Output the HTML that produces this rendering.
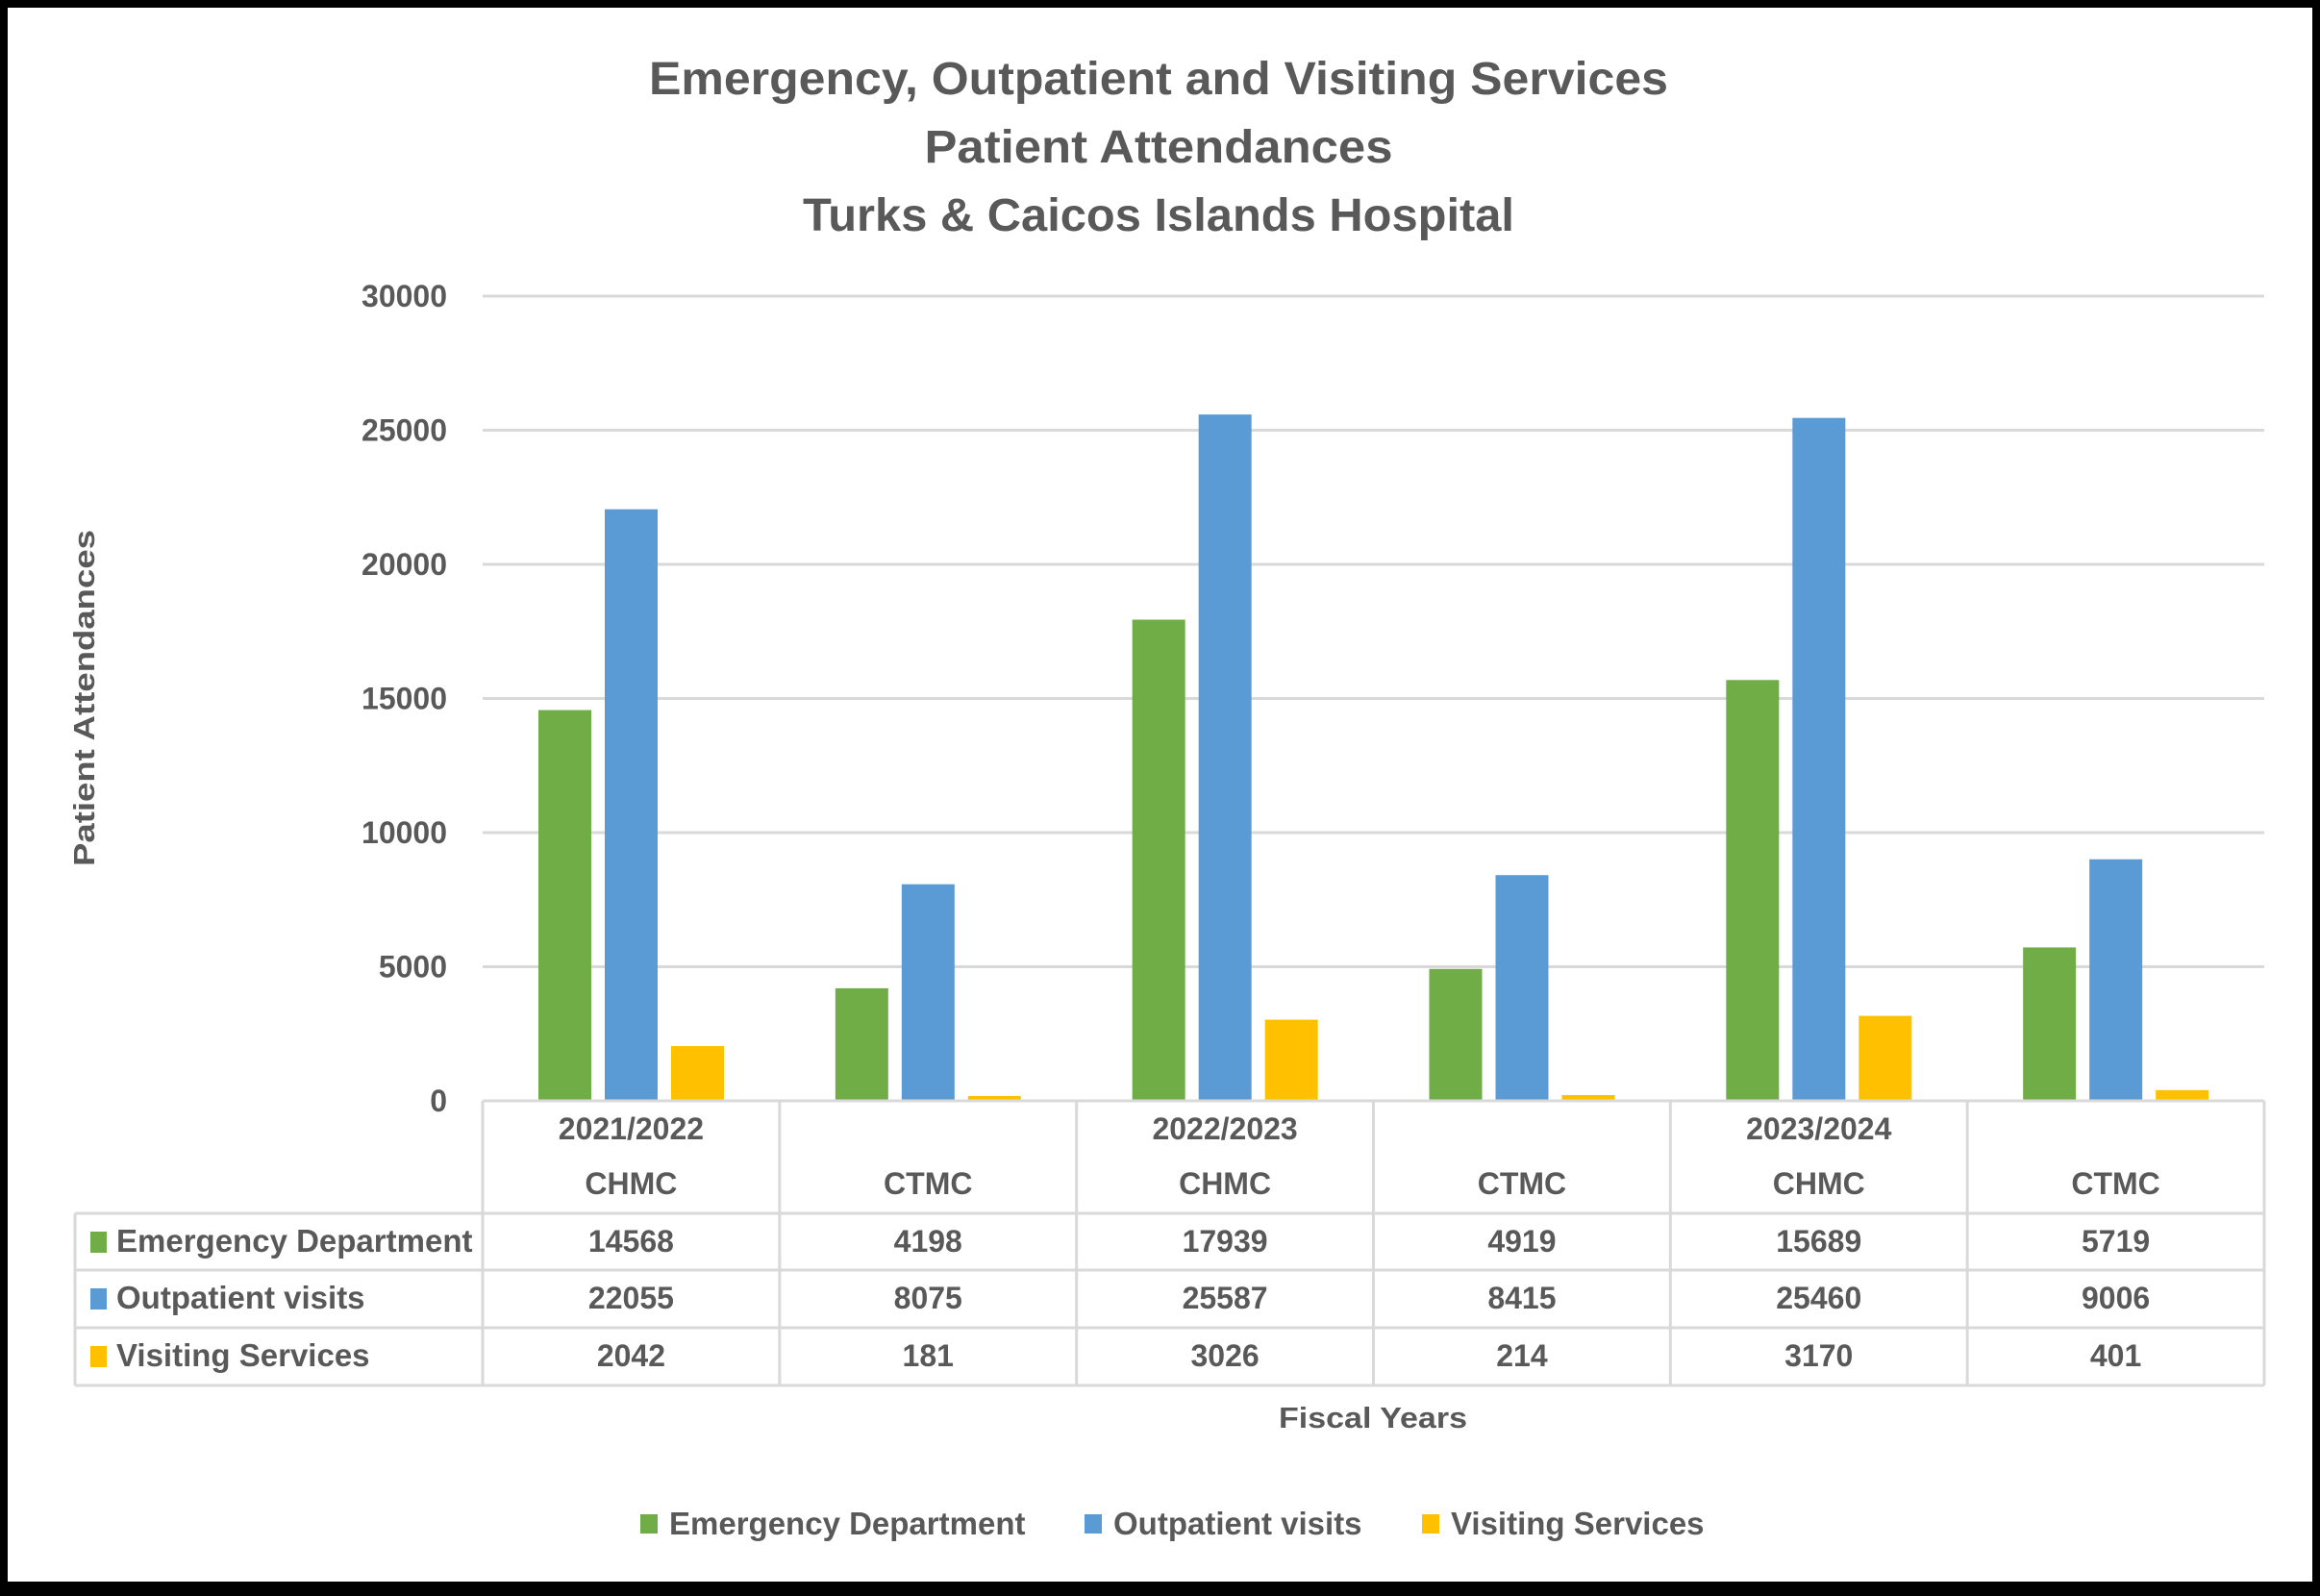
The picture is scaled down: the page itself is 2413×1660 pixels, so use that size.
<!DOCTYPE html>
<html><head><meta charset="utf-8"><style>
html,body{margin:0;padding:0;background:#000;}
svg{display:block;}
text{font-family:"Liberation Sans",sans-serif;font-weight:bold;fill:#595959;}
</style></head><body>
<svg id="chart" width="2413" height="1660" viewBox="0 0 2413 1660" xmlns="http://www.w3.org/2000/svg">
<rect x="0" y="0" width="2413" height="1660" fill="#000"/>
<rect x="8" y="8" width="2397" height="1637" fill="#fff"/>
<text x="1205" y="98" text-anchor="middle" font-size="48" textLength="1060" lengthAdjust="spacingAndGlyphs">Emergency, Outpatient and Visiting Services</text>
<text x="1205" y="169" text-anchor="middle" font-size="48" textLength="487" lengthAdjust="spacingAndGlyphs">Patient Attendances</text>
<text x="1205" y="240" text-anchor="middle" font-size="48" textLength="740" lengthAdjust="spacingAndGlyphs">Turks &amp; Caicos Islands Hospital</text>
<text transform="translate(98,726) rotate(-90)" text-anchor="middle" font-size="31" textLength="350" lengthAdjust="spacingAndGlyphs">Patient Attendances</text>
<text x="1428" y="1485" text-anchor="middle" font-size="31" textLength="196" lengthAdjust="spacingAndGlyphs">Fiscal Years</text>
<g id="grid"></g><g id="bars"></g><g id="table"></g><g id="legend"></g>
</svg>
<script>
const categories = ["CHMC","CTMC","CHMC","CTMC","CHMC","CTMC"];
const years = ["2021/2022","","2022/2023","","2023/2024",""];
const seriesNames = ["Emergency Department","Outpatient visits","Visiting Services"];
const emergency = [14568,4198,17939,4919,15689,5719];
const outpatient = [22055,8075,25587,8415,25460,9006];
const visiting = [2042,181,3026,214,3170,401];
const yTicks = [0,5000,10000,15000,20000,25000,30000];
const colors = ["#70AD47","#5B9BD5","#FFC000"];
const series = [emergency,outpatient,visiting];

const NS="http://www.w3.org/2000/svg";
const L=502,R=2355,Y0=1145,Y1=308,YMAX=30000;
const catW=(R-L)/categories.length;
function yScale(v){return Y0-(v/YMAX)*(Y0-Y1);}
function xCat(i){return L+i*catW;}
function mk(tag,attrs,parent,txt){const e=document.createElementNS(NS,tag);for(const k in attrs)e.setAttribute(k,attrs[k]);if(txt!==undefined)e.textContent=txt;parent.appendChild(e);return e;}
const grid=document.getElementById('grid'),bars=document.getElementById('bars'),table=document.getElementById('table'),legend=document.getElementById('legend');

yTicks.forEach(t=>{
  const y=yScale(t);
  if(t>0){const ln=mk('line',{x1:L,x2:R,y1:y,y2:y,stroke:'#d9d9d9','stroke-width':3},grid);
  
  }
  const tx=mk('text',{x:465,y:y+11,'text-anchor':'end','font-size':32},grid,String(t));
  
  
});

const barW=55,gap=14,off=58;
series.forEach((s,si)=>{
  s.forEach((v,i)=>{
    const x=xCat(i)+off+si*(barW+gap);
    const y=yScale(v);
    const r=mk('rect',{x:x,y:y,width:barW,height:Y0-y,fill:colors[si]},bars);
    
    
  });
});

const lc='#d9d9d9';
const rowsY=[1145,1262,1321,1381,1441];
rowsY.forEach((y,k)=>{const ln=mk('line',{x1:k===0?L:78,x2:R,y1:y,y2:y,stroke:lc,'stroke-width':3},table);
  
  });
const vl=mk('line',{x1:78,x2:78,y1:1262,y2:1441,stroke:lc,'stroke-width':3},table);


for(let i=0;i<=categories.length;i++){
  const x=xCat(i);
  const ln=mk('line',{x1:x,x2:x,y1:1145,y2:1441,stroke:lc,'stroke-width':3},table);
  
  
}
categories.forEach((c,i)=>{
  const cx=xCat(i)+catW/2;
  if(years[i]){const t=mk('text',{x:cx,y:1185,'text-anchor':'middle','font-size':32},table,years[i]);
    
    }
  const t2=mk('text',{x:cx,y:1242,'text-anchor':'middle','font-size':32},table,c);
  
  
});
const rowC=[1291,1350,1410];
series.forEach((s,si)=>{
  const sq=mk('rect',{x:94,y:rowC[si]-10,width:17,height:22,fill:colors[si]},table);
  
  
  const lab=mk('text',{x:121,y:rowC[si]+11,'font-size':33},table,seriesNames[si]);
  
  
  s.forEach((v,i)=>{
    const t=mk('text',{x:xCat(i)+catW/2,y:rowC[si]+11,'text-anchor':'middle','font-size':32},table,String(v));
    
    
  });
});

const legX=[666,1128,1479];
seriesNames.forEach((n,i)=>{
  const sq=mk('rect',{x:legX[i],y:1575,width:18,height:20,fill:colors[i]},legend);
  
  
  const t=mk('text',{x:legX[i]+30,y:1596,'font-size':33},legend,n);
  
  
});
</script>
</body></html>
